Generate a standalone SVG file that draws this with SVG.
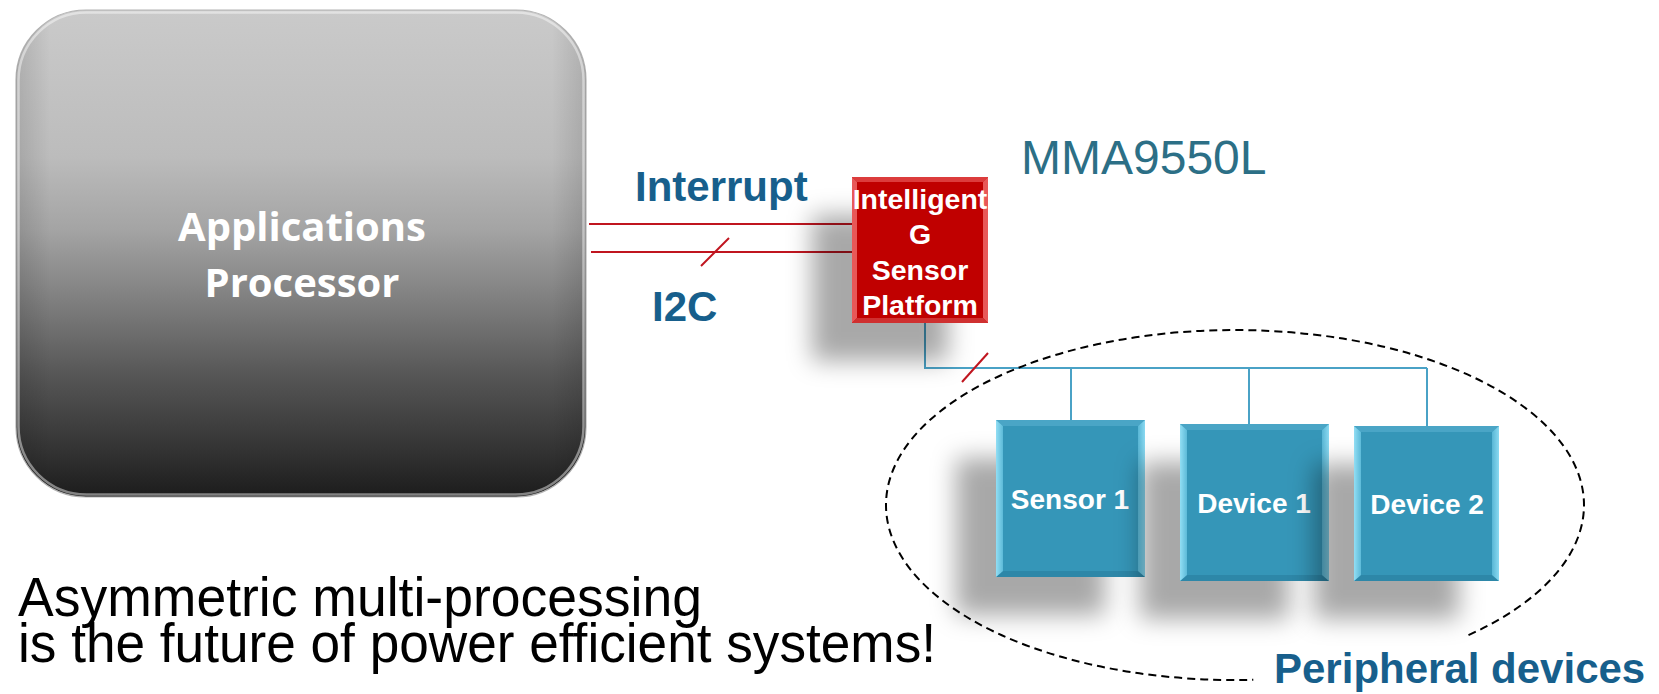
<svg xmlns="http://www.w3.org/2000/svg" width="1659" height="694" viewBox="0 0 1659 694">
  <style>
    .sans { font-family: "Liberation Sans", Arial, sans-serif; }
    .label-blue { font-family: "Liberation Sans", Arial, sans-serif; font-weight: bold; font-size: 42px; fill: #175f8c; }
    .chip-text { font-family: "Liberation Sans", Arial, sans-serif; font-weight: bold; font-size: 28.5px; fill: #ffffff; text-anchor: middle; }
    .dev-text { font-family: "Liberation Sans", Arial, sans-serif; font-weight: bold; font-size: 28px; fill: #ffffff; text-anchor: middle; }
    .ap-text { font-family: "Open Sans", "Noto Sans", sans-serif; font-weight: bold; font-size: 40px; fill: #ffffff; text-anchor: middle; }
    .wire-red { stroke: #c0151f; stroke-width: 2; fill: none; }
    .wire-blue { stroke: #4aa2c6; stroke-width: 2; fill: none; }
    .dev-face { fill: #3596b8; }
    .dev-top { fill: #4aa5c6; }
    .dev-bottom { fill: #2d87a8; }
    .dev-left { fill: url(#devLeft); }
    .dev-right { fill: url(#devRight); }
    .chip-face { fill: #c00000; }
    .chip-top { fill: #dc3c3c; }
    .chip-side { fill: #e85858; }
    .chip-bottom { fill: #cf3030; }
  </style>
  <defs>
    <linearGradient id="apFill" x1="0" y1="0" x2="0" y2="1">
      <stop offset="0" stop-color="#cacaca"/>
      <stop offset="0.3" stop-color="#bcbcbc"/>
      <stop offset="0.45" stop-color="#a4a4a4"/>
      <stop offset="0.6" stop-color="#7e7e7e"/>
      <stop offset="0.75" stop-color="#565656"/>
      <stop offset="0.9" stop-color="#343434"/>
      <stop offset="1" stop-color="#1c1c1c"/>
    </linearGradient>
    <linearGradient id="apSides" x1="0" y1="0" x2="1" y2="0">
      <stop offset="0" stop-color="#000" stop-opacity="0.12"/>
      <stop offset="0.06" stop-color="#000" stop-opacity="0"/>
      <stop offset="0.94" stop-color="#000" stop-opacity="0"/>
      <stop offset="1" stop-color="#000" stop-opacity="0.12"/>
    </linearGradient>
    <linearGradient id="devLeft" x1="0" y1="0" x2="1" y2="0">
      <stop offset="0" stop-color="#92def4"/>
      <stop offset="1" stop-color="#5dbad8"/>
    </linearGradient>
    <linearGradient id="devRight" x1="1" y1="0" x2="0" y2="0">
      <stop offset="0" stop-color="#8ad9f1"/>
      <stop offset="1" stop-color="#58b6d5"/>
    </linearGradient>
    <filter id="softShadow" x="-70%" y="-50%" width="240%" height="220%">
      <feGaussianBlur in="SourceAlpha" stdDeviation="12"/>
      <feOffset dx="-40" dy="38" result="blur"/>
      <feFlood flood-color="#000" flood-opacity="0.34"/>
      <feComposite in2="blur" operator="in" result="shadow"/>
      <feMerge>
        <feMergeNode in="shadow"/>
        <feMergeNode in="SourceGraphic"/>
      </feMerge>
    </filter>
  </defs>

  <rect width="1659" height="694" fill="#ffffff"/>

  <!-- Applications processor -->
  <g id="applications-processor">
    <rect x="16" y="10" width="570" height="487" rx="70" fill="url(#apFill)" stroke="#b4b4b4" stroke-width="1.2"/>
    <rect x="16" y="10" width="570" height="487" rx="70" fill="url(#apSides)"/>
    <rect x="18.5" y="12.5" width="565" height="482" rx="68" fill="none" stroke="#ffffff" stroke-opacity="0.45" stroke-width="2.5"/>
    <text class="ap-text" x="302" y="241">Applications</text>
    <text class="ap-text" x="302" y="297">Processor</text>
  </g>

  <!-- Wires between blocks -->
  <g id="connectors">
    <line class="wire-red" x1="589" y1="224" x2="852" y2="224"/>
    <line class="wire-red" x1="591" y1="252" x2="852" y2="252"/>
    <line class="wire-red" x1="701" y1="266" x2="729" y2="238"/>
    <polyline class="wire-blue" points="925,323 925,368 1427,368"/>
    <line class="wire-blue" x1="1071" y1="368" x2="1071" y2="420"/>
    <line class="wire-blue" x1="1249" y1="368" x2="1249" y2="424"/>
    <line class="wire-blue" x1="1427" y1="368" x2="1427" y2="426"/>
    <line class="wire-red" x1="962" y1="382" x2="988" y2="353"/>
  </g>

  <!-- Interface labels -->
  <g id="bus-labels">
    <text class="label-blue" x="635" y="201">Interrupt</text>
    <text class="label-blue" x="652" y="321">I2C</text>
  </g>

  <!-- Sensor platform chip -->
  <g id="sensor-platform">
    <g filter="url(#softShadow)">
      <rect class="chip-face" x="852" y="177" width="136" height="146"/>
    </g>
    <polygon class="chip-top" points="852,177 988,177 983,182 857,182"/>
    <polygon class="chip-side" points="852,177 857,182 857,318 852,323"/>
    <polygon class="chip-side" points="988,177 983,182 983,318 988,323"/>
    <polygon class="chip-bottom" points="852,323 988,323 983,318 857,318"/>
    <text class="chip-text" x="920" y="209">Intelligent</text>
    <text class="chip-text" x="920" y="244">G</text>
    <text class="chip-text" x="920" y="280">Sensor</text>
    <text class="chip-text" x="920" y="315">Platform</text>
  </g>

  <text id="part-number" class="sans" x="1021" y="174" font-size="48" fill="#2c6f86">MMA9550L</text>

  <!-- Peripheral boundary: dashed ellipse, open where the label sits -->
  <g id="peripheral-group">
    <path d="M1468.5,635.1 A349,175 0 1 0 1253.3,679.8" fill="none" stroke="#000" stroke-width="2" stroke-dasharray="8 5"/>
    <text class="label-blue" x="1274" y="683">Peripheral devices</text>
  </g>

  <!-- Peripheral devices -->
  <g id="sensor-1">
    <g filter="url(#softShadow)">
      <rect class="dev-face" x="996" y="420" width="149" height="157"/>
    </g>
    <polygon class="dev-top" points="996,420 1145,420 1138,426 1003,426"/>
    <polygon class="dev-bottom" points="996,577 1145,577 1138,571 1003,571"/>
    <polygon class="dev-left" points="996,420 1003,426 1003,571 996,577"/>
    <polygon class="dev-right" points="1145,420 1138,426 1138,571 1145,577"/>
    <text class="dev-text" x="1070" y="509">Sensor 1</text>
  </g>
  <g id="device-1">
    <g filter="url(#softShadow)">
      <rect class="dev-face" x="1180" y="424" width="149" height="157"/>
    </g>
    <polygon class="dev-top" points="1180,424 1329,424 1322,430 1187,430"/>
    <polygon class="dev-bottom" points="1180,581 1329,581 1322,575 1187,575"/>
    <polygon class="dev-left" points="1180,424 1187,430 1187,575 1180,581"/>
    <polygon class="dev-right" points="1329,424 1322,430 1322,575 1329,581"/>
    <text class="dev-text" x="1254" y="513">Device 1</text>
  </g>
  <g id="device-2">
    <g filter="url(#softShadow)">
      <rect class="dev-face" x="1354" y="426" width="145" height="155"/>
    </g>
    <polygon class="dev-top" points="1354,426 1499,426 1492,432 1361,432"/>
    <polygon class="dev-bottom" points="1354,581 1499,581 1492,575 1361,575"/>
    <polygon class="dev-left" points="1354,426 1361,432 1361,575 1354,581"/>
    <polygon class="dev-right" points="1499,426 1492,432 1492,575 1499,581"/>
    <text class="dev-text" x="1427" y="514">Device 2</text>
  </g>

  <!-- Caption -->
  <g id="caption" class="sans" font-size="55" fill="#000000">
    <text x="18" y="616" textLength="684" lengthAdjust="spacingAndGlyphs">Asymmetric multi-processing</text>
    <text x="18" y="662" textLength="918" lengthAdjust="spacingAndGlyphs">is the future of power efficient systems!</text>
  </g>
</svg>
